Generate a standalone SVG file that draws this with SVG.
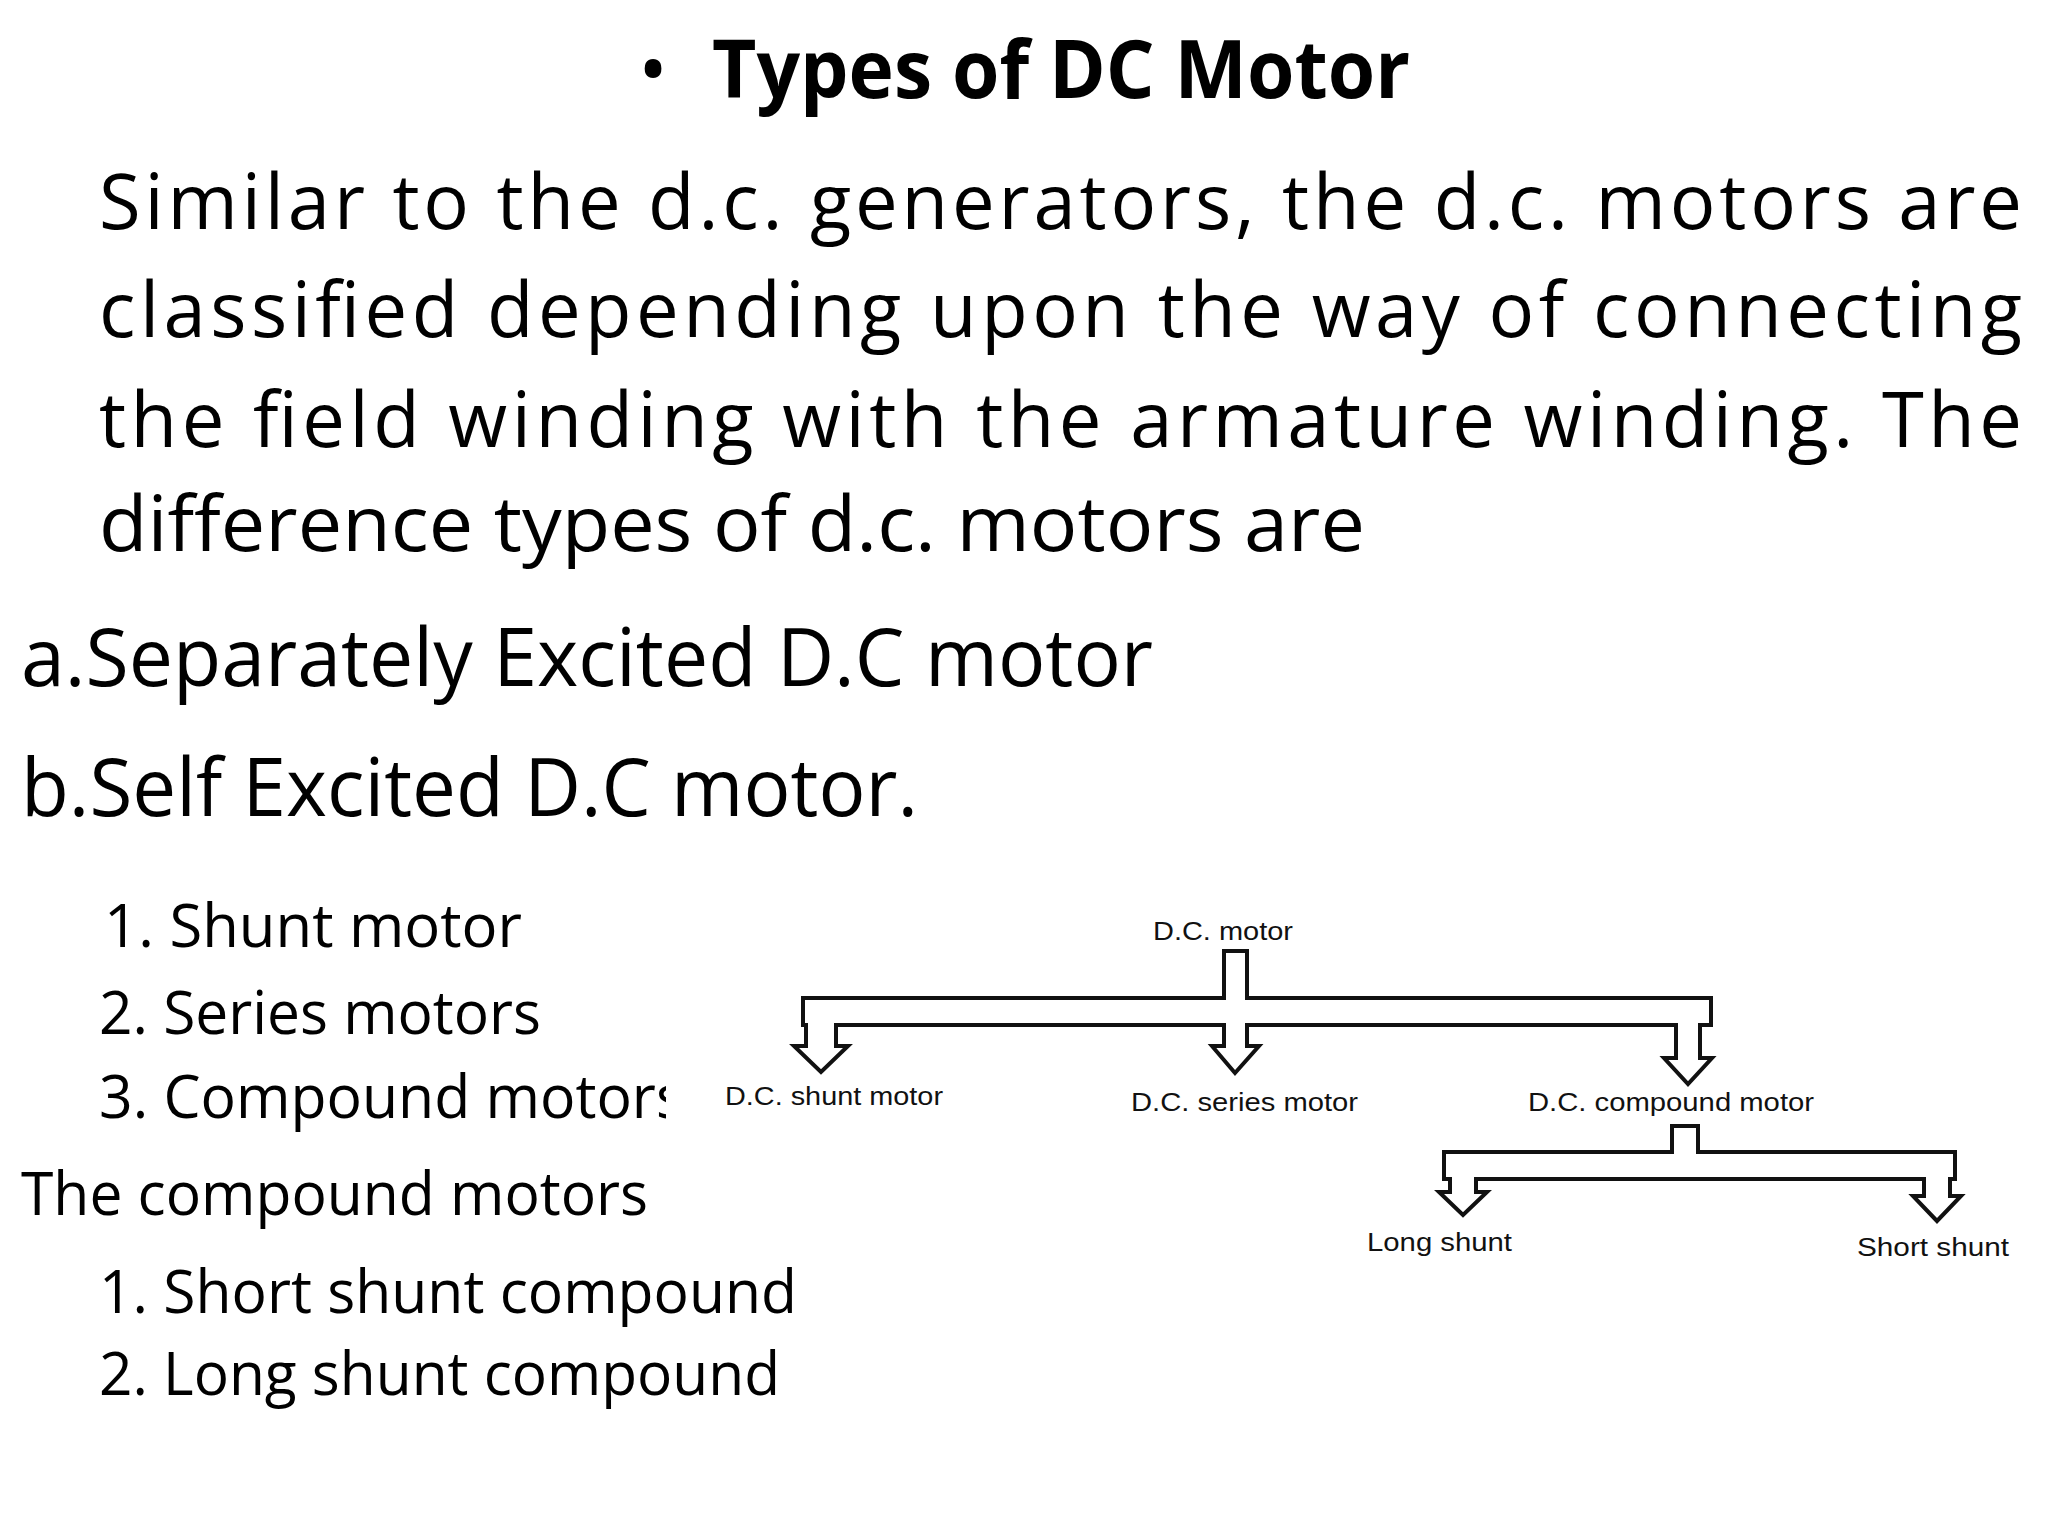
<svg xmlns="http://www.w3.org/2000/svg" width="2048" height="1536" viewBox="0 0 2048 1536">
<style>
.b{font-family:"Open Sans","Liberation Sans",sans-serif;fill:#000}
.l{font-family:"Liberation Sans",Arial,sans-serif;font-size:25px;fill:#111}
.t{fill:#fff;stroke:#111;stroke-width:4;stroke-linejoin:miter}
</style>
<defs><clipPath id="c"><rect x="0" y="1060" width="666" height="80"/></clipPath></defs>
<rect width="2048" height="1536" fill="#fff"/>
<g id="title"><text class="b" x="638" y="98" font-size="80">•</text>
<text class="b" x="712" y="98" font-size="80" font-weight="bold" textLength="698" lengthAdjust="spacingAndGlyphs">Types of DC Motor</text></g>
<g id="para" font-size="76">
<text class="b" x="99" y="229" font-size="76" textLength="1923" lengthAdjust="spacing">Similar to the d.c. generators, the d.c. motors are</text>
<text class="b" x="99" y="337" font-size="76" textLength="1923" lengthAdjust="spacing">classified depending upon the way of connecting</text>
<text class="b" x="99" y="447" font-size="76" textLength="1923" lengthAdjust="spacing">the field winding with the armature winding. The</text>
<text class="b" x="99" y="551" font-size="76" textLength="1266" lengthAdjust="spacingAndGlyphs">difference types of d.c. motors are</text>
<text class="b" x="21" y="686" font-size="80" textLength="1132" lengthAdjust="spacingAndGlyphs">a.Separately Excited D.C motor</text>
<text class="b" x="21" y="816" font-size="80" textLength="897" lengthAdjust="spacingAndGlyphs">b.Self Excited D.C motor.</text>
<text class="b" x="104" y="947" font-size="60" textLength="418" lengthAdjust="spacingAndGlyphs">1. Shunt motor</text>
<text class="b" x="99" y="1034" font-size="60" textLength="442" lengthAdjust="spacingAndGlyphs">2. Series motors</text>
<text class="b" x="99" y="1118" font-size="60" textLength="585" lengthAdjust="spacingAndGlyphs" clip-path="url(#c)">3. Compound motors</text>
<text class="b" x="21" y="1215" font-size="60" textLength="627" lengthAdjust="spacingAndGlyphs">The compound motors</text>
<text class="b" x="99" y="1313" font-size="60" textLength="698" lengthAdjust="spacingAndGlyphs">1. Short shunt compound</text>
<text class="b" x="99" y="1395" font-size="60" textLength="681" lengthAdjust="spacingAndGlyphs">2. Long shunt compound</text>
</g>
<g id="connectors">
<path class="t" d="M1224,951 H1247 V998 H1711 V1025 H1700 V1058 H1712 L1688,1084 L1664,1058 H1676 V1025 H1247 V1046 H1259 L1235,1073 L1212,1046 H1224 V1025 H836 V1046 H848 L821,1072 L794,1046 H806 V1025 H803 V998 H1224 Z"/>
<path class="t" d="M1672,1126 H1698 V1152 H1955 V1179 H1950 V1196 H1961 L1937,1221 L1913,1196 H1924 V1179 H1476 V1192 H1487 L1463,1215 L1439,1192 H1450 V1179 H1444 V1152 H1672 Z"/>
</g>
<g id="n-dcmotor"><text class="l" x="1153" y="940" textLength="140" lengthAdjust="spacingAndGlyphs">D.C. motor</text></g>
<g id="n-shunt"><text class="l" x="725" y="1105" textLength="218" lengthAdjust="spacingAndGlyphs">D.C. shunt motor</text></g>
<g id="n-series"><text class="l" x="1131" y="1111" textLength="227" lengthAdjust="spacingAndGlyphs">D.C. series motor</text></g>
<g id="n-compound"><text class="l" x="1528" y="1111" textLength="286" lengthAdjust="spacingAndGlyphs">D.C. compound motor</text></g>
<g id="n-long"><text class="l" x="1367" y="1251" textLength="145" lengthAdjust="spacingAndGlyphs">Long shunt</text></g>
<g id="n-short"><text class="l" x="1857" y="1256" textLength="152" lengthAdjust="spacingAndGlyphs">Short shunt</text></g>
</svg>
